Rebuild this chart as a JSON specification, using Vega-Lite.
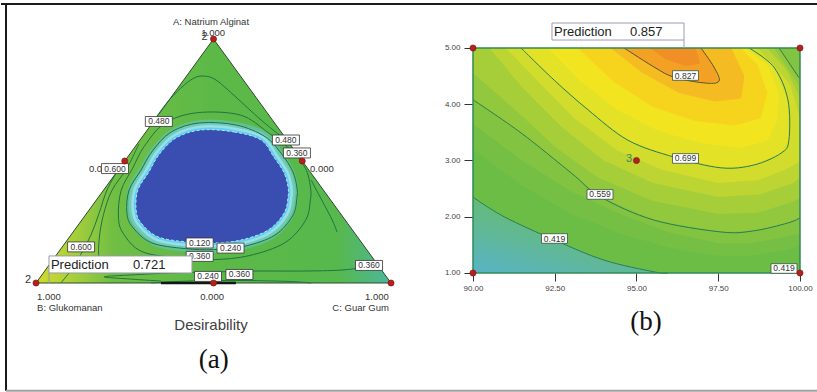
{
"$schema":"https://vega.github.io/schema/vega-lite/v6.json",
"padding":0,
"spacing":0,
"bounds":"flush",
"background":"white",
"config":{"view":{"stroke":null},"font":"Liberation Sans"},
"resolve":{"scale":{"x":"independent","y":"independent"}},
"datasets":{
"LP":[
{"g":"tri","i":0,"u":0,"v":0},{"g":"tri","i":1,"u":1,"v":0},{"g":"tri","i":2,"u":0.5,"v":1},
{"g":"blob","i":1,"u":0.465,"v":0.627},{"g":"blob","i":2,"u":0.558,"v":0.619},{"g":"blob","i":3,"u":0.634,"v":0.586},{"g":"blob","i":4,"u":0.670,"v":0.516},{"g":"blob","i":5,"u":0.699,"v":0.451},{"g":"blob","i":6,"u":0.710,"v":0.393},{"g":"blob","i":7,"u":0.710,"v":0.352},{"g":"blob","i":8,"u":0.699,"v":0.287},{"g":"blob","i":9,"u":0.654,"v":0.217},{"g":"blob","i":10,"u":0.577,"v":0.176},{"g":"blob","i":11,"u":0.501,"v":0.164},{"g":"blob","i":12,"u":0.428,"v":0.168},{"g":"blob","i":13,"u":0.344,"v":0.189},{"g":"blob","i":14,"u":0.296,"v":0.246},{"g":"blob","i":15,"u":0.282,"v":0.299},{"g":"blob","i":16,"u":0.287,"v":0.381},{"g":"blob","i":17,"u":0.318,"v":0.455},{"g":"blob","i":18,"u":0.346,"v":0.525},{"g":"blob","i":19,"u":0.394,"v":0.594},
{"g":"r240","i":1,"u":0.461,"v":0.656},{"g":"r240","i":2,"u":0.565,"v":0.647},{"g":"r240","i":3,"u":0.645,"v":0.600},{"g":"r240","i":4,"u":0.691,"v":0.531},{"g":"r240","i":5,"u":0.723,"v":0.458},{"g":"r240","i":6,"u":0.735,"v":0.393},{"g":"r240","i":7,"u":0.735,"v":0.348},{"g":"r240","i":8,"u":0.723,"v":0.275},{"g":"r240","i":9,"u":0.673,"v":0.196},{"g":"r240","i":10,"u":0.586,"v":0.150},{"g":"r240","i":11,"u":0.501,"v":0.137},{"g":"r240","i":12,"u":0.420,"v":0.141},{"g":"r240","i":13,"u":0.325,"v":0.165},{"g":"r240","i":14,"u":0.272,"v":0.229},{"g":"r240","i":15,"u":0.256,"v":0.288},{"g":"r240","i":16,"u":0.262,"v":0.380},{"g":"r240","i":17,"u":0.296,"v":0.463},{"g":"r240","i":18,"u":0.328,"v":0.541},{"g":"r240","i":19,"u":0.381,"v":0.619},
{"g":"r360","i":1,"u":0.455,"v":0.698},{"g":"r360","i":2,"u":0.576,"v":0.688},{"g":"r360","i":3,"u":0.655,"v":0.615},{"g":"r360","i":4,"u":0.718,"v":0.545},{"g":"r360","i":5,"u":0.759,"v":0.470},{"g":"r360","i":6,"u":0.773,"v":0.394},{"g":"r360","i":7,"u":0.773,"v":0.341},{"g":"r360","i":8,"u":0.759,"v":0.256},{"g":"r360","i":9,"u":0.701,"v":0.165},{"g":"r360","i":10,"u":0.600,"v":0.112},{"g":"r360","i":11,"u":0.502,"v":0.096},{"g":"r360","i":12,"u":0.407,"v":0.102},{"g":"r360","i":13,"u":0.298,"v":0.129},{"g":"r360","i":14,"u":0.245,"v":0.205},{"g":"r360","i":15,"u":0.232,"v":0.275},{"g":"r360","i":16,"u":0.240,"v":0.380},{"g":"r360","i":17,"u":0.272,"v":0.470},{"g":"r360","i":18,"u":0.305,"v":0.560},{"g":"r360","i":19,"u":0.363,"v":0.655},
{"g":"l480u","i":1,"u":0.324,"v":0.648},{"g":"l480u","i":2,"u":0.366,"v":0.734},{"g":"l480u","i":3,"u":0.408,"v":0.799},{"g":"l480u","i":4,"u":0.445,"v":0.840},{"g":"l480u","i":5,"u":0.473,"v":0.848},{"g":"l480u","i":6,"u":0.507,"v":0.832},{"g":"l480u","i":7,"u":0.563,"v":0.762},{"g":"l480u","i":8,"u":0.634,"v":0.668},{"g":"l480u","i":9,"u":0.707,"v":0.582},
{"g":"l480r","i":1,"u":0.775,"v":0.422},{"g":"l480r","i":2,"u":0.797,"v":0.361},{"g":"l480r","i":3,"u":0.820,"v":0.299},{"g":"l480r","i":4,"u":0.837,"v":0.250},{"g":"l480r","i":5,"u":0.848,"v":0.209},
{"g":"l480l","i":1,"u":0.290,"v":0.570},{"g":"l480l","i":2,"u":0.256,"v":0.470},{"g":"l480l","i":3,"u":0.214,"v":0.380},{"g":"l480l","i":4,"u":0.190,"v":0.280},{"g":"l480l","i":5,"u":0.178,"v":0.180},{"g":"l480l","i":6,"u":0.178,"v":0.100},{"g":"l480l","i":7,"u":0.195,"v":0.045},
{"g":"l600","i":1,"u":0.234,"v":0.471},{"g":"l600","i":2,"u":0.200,"v":0.381},{"g":"l600","i":3,"u":0.178,"v":0.287},{"g":"l600","i":4,"u":0.155,"v":0.197},{"g":"l600","i":5,"u":0.127,"v":0.119},{"g":"l600","i":6,"u":0.099,"v":0.053},{"g":"l600","i":7,"u":0.070,"v":0.0},
{"g":"lb360","i":1,"u":0.352,"v":0.008},{"g":"lb360","i":2,"u":0.268,"v":0.016},{"g":"lb360","i":3,"u":0.192,"v":0.025},{"g":"lb360","i":4,"u":0.268,"v":0.033},{"g":"lb360","i":5,"u":0.380,"v":0.041},{"g":"lb360","i":6,"u":0.499,"v":0.045},{"g":"lb360","i":7,"u":0.606,"v":0.049},{"g":"lb360","i":8,"u":0.746,"v":0.049},{"g":"lb360","i":9,"u":0.859,"v":0.053},{"g":"lb360","i":10,"u":0.930,"v":0.066},{"g":"lb360","i":11,"u":0.961,"v":0.078},
{"g":"lb240","i":1,"u":0.324,"v":0},{"g":"lb240","i":2,"u":0.394,"v":0.006},{"g":"lb240","i":3,"u":0.499,"v":0.010},{"g":"lb240","i":4,"u":0.606,"v":0.010},{"g":"lb240","i":5,"u":0.718,"v":0.006},{"g":"lb240","i":6,"u":0.775,"v":0},
{"g":"base","i":1,"u":0.352,"v":0},{"g":"base","i":2,"u":0.563,"v":0}
],
"LBox":[
{"u":0.346,"v":0.662,"t":"0.480"},{"u":0.704,"v":0.586,"t":"0.480"},{"u":0.735,"v":0.533,"t":"0.360"},{"u":0.2225,"v":0.469,"t":"0.600"},{"u":0.127,"v":0.148,"t":"0.600"},{"u":0.461,"v":0.164,"t":"0.120"},{"u":0.548,"v":0.143,"t":"0.240"},{"u":0.461,"v":0.109,"t":"0.360"},{"u":0.4845,"v":0.027,"t":"0.240"},{"u":0.573,"v":0.035,"t":"0.360"},{"u":0.938,"v":0.072,"t":"0.360"}
],
"LUnder":[{"u":0.149,"v":0.467,"t":"0.000"},{"u":0.772,"v":0.467,"t":"0.000"}],
"LTc":[{"u":0.493,"v":1.070,"t":"A: Natrium Alginat"},{"u":0.499,"v":1.023,"t":"1.000"},{"u":0.496,"v":-0.057,"t":"0.000"}],
"LTl":[{"u":0.003,"v":-0.057,"t":"1.000"},{"u":0.003,"v":-0.102,"t":"B: Glukomanan"}],
"LTr":[{"u":0.994,"v":-0.057,"t":"1.000"},{"u":0.994,"v":-0.102,"t":"C: Guar Gum"}],
"LT2":[{"u":0.475,"v":1.010,"t":"2"},{"u":-0.0225,"v":0.012,"t":"2"}],
"LM":[{"u":0.5,"v":1},{"u":0,"v":0},{"u":1,"v":0},{"u":0.25,"v":0.5},{"u":0.75,"v":0.5},{"u":0.5,"v":0}],
"RP":[
{"g":"base","i":0,"x":90,"y":1},{"g":"base","i":1,"x":100,"y":1},{"g":"base","i":2,"x":100,"y":5},{"g":"base","i":3,"x":90,"y":5},
{"g":"corner","i":0,"x":90,"y":1},{"g":"corner","i":1,"x":95.96,"y":1},{"g":"corner","i":2,"x":95.54,"y":1.02},{"g":"corner","i":3,"x":94.0,"y":1.23},{"g":"corner","i":4,"x":92.48,"y":1.59},{"g":"corner","i":5,"x":90.95,"y":2.0},{"g":"corner","i":6,"x":90,"y":2.35},
{"g":"b49","i":0,"x":90,"y":5},{"g":"b49","i":1,"x":90,"y":3.2},{"g":"b49","i":2,"x":91.5,"y":2.55},{"g":"b49","i":3,"x":93,"y":2.05},{"g":"b49","i":4,"x":94.5,"y":1.7},{"g":"b49","i":5,"x":96,"y":1.45},{"g":"b49","i":6,"x":97.5,"y":1.3},{"g":"b49","i":7,"x":98.5,"y":1.3},{"g":"b49","i":8,"x":99.5,"y":1.4},{"g":"b49","i":9,"x":100,"y":1.47},{"g":"b49","i":10,"x":100,"y":5},
{"g":"b53","i":0,"x":90,"y":5},{"g":"b53","i":1,"x":90,"y":3.65},{"g":"b53","i":2,"x":91.5,"y":3.0},{"g":"b53","i":3,"x":93,"y":2.45},{"g":"b53","i":4,"x":94.5,"y":2.05},{"g":"b53","i":5,"x":96,"y":1.72},{"g":"b53","i":6,"x":97.5,"y":1.53},{"g":"b53","i":7,"x":98.5,"y":1.53},{"g":"b53","i":8,"x":99.5,"y":1.63},{"g":"b53","i":9,"x":100,"y":1.7},{"g":"b53","i":10,"x":100,"y":5},
{"g":"b559","i":0,"x":90,"y":5},{"g":"b559","i":1,"x":90,"y":4.08},{"g":"b559","i":2,"x":91.47,"y":3.49},{"g":"b559","i":3,"x":93.0,"y":2.78},{"g":"b559","i":4,"x":93.91,"y":2.35},{"g":"b559","i":5,"x":95.54,"y":1.94},{"g":"b559","i":6,"x":97.58,"y":1.73},{"g":"b559","i":7,"x":98.59,"y":1.75},{"g":"b559","i":8,"x":99.63,"y":1.89},{"g":"b559","i":9,"x":100,"y":1.98},{"g":"b559","i":10,"x":100,"y":4.45},{"g":"b559","i":11,"x":99.97,"y":4.47},{"g":"b559","i":12,"x":99.36,"y":5},
{"g":"b595","i":0,"x":90,"y":5},{"g":"b595","i":1,"x":90,"y":4.55},{"g":"b595","i":2,"x":91.2,"y":3.95},{"g":"b595","i":3,"x":92.5,"y":3.25},{"g":"b595","i":4,"x":93.8,"y":2.7},{"g":"b595","i":5,"x":95.5,"y":2.28},{"g":"b595","i":6,"x":97.5,"y":2.05},{"g":"b595","i":7,"x":98.7,"y":2.07},{"g":"b595","i":8,"x":99.7,"y":2.25},{"g":"b595","i":9,"x":100,"y":2.33},{"g":"b595","i":10,"x":100,"y":4.3},{"g":"b595","i":11,"x":99.75,"y":4.52},{"g":"b595","i":12,"x":99.2,"y":5},
{"g":"b63","i":0,"x":90.5,"y":5},{"g":"b63","i":1,"x":91.5,"y":4.3},{"g":"b63","i":2,"x":92.7,"y":3.6},{"g":"b63","i":3,"x":94,"y":3.0},{"g":"b63","i":4,"x":95.5,"y":2.6},{"g":"b63","i":5,"x":97.5,"y":2.35},{"g":"b63","i":6,"x":98.8,"y":2.4},{"g":"b63","i":7,"x":99.8,"y":2.6},{"g":"b63","i":8,"x":100,"y":2.7},{"g":"b63","i":9,"x":100,"y":4.1},{"g":"b63","i":10,"x":99.6,"y":4.6},{"g":"b63","i":11,"x":99.0,"y":5},
{"g":"b665","i":0,"x":91.0,"y":5},{"g":"b665","i":1,"x":92.0,"y":4.4},{"g":"b665","i":2,"x":93.1,"y":3.75},{"g":"b665","i":3,"x":94.4,"y":3.18},{"g":"b665","i":4,"x":95.8,"y":2.83},{"g":"b665","i":5,"x":97.5,"y":2.6},{"g":"b665","i":6,"x":98.7,"y":2.65},{"g":"b665","i":7,"x":99.6,"y":2.85},{"g":"b665","i":8,"x":100,"y":2.98},{"g":"b665","i":9,"x":100,"y":3.75},{"g":"b665","i":10,"x":99.7,"y":4.35},{"g":"b665","i":11,"x":99.1,"y":4.75},{"g":"b665","i":12,"x":98.7,"y":5},
{"g":"b699","i":0,"x":91.47,"y":5},{"g":"b699","i":1,"x":92.48,"y":4.43},{"g":"b699","i":2,"x":93.52,"y":3.9},{"g":"b699","i":3,"x":94.74,"y":3.36},{"g":"b699","i":4,"x":96.15,"y":3.06},{"g":"b699","i":5,"x":97.58,"y":2.87},{"g":"b699","i":6,"x":98.59,"y":2.92},{"g":"b699","i":7,"x":99.42,"y":3.13},{"g":"b699","i":8,"x":99.66,"y":3.36},{"g":"b699","i":9,"x":99.63,"y":4.08},{"g":"b699","i":10,"x":99.2,"y":4.66},{"g":"b699","i":11,"x":98.44,"y":5},
{"g":"b73","i":0,"x":92.3,"y":5},{"g":"b73","i":1,"x":93.3,"y":4.4},{"g":"b73","i":2,"x":94.4,"y":3.9},{"g":"b73","i":3,"x":95.7,"y":3.52},{"g":"b73","i":4,"x":97.0,"y":3.3},{"g":"b73","i":5,"x":98.2,"y":3.22},{"g":"b73","i":6,"x":99.0,"y":3.35},{"g":"b73","i":7,"x":99.3,"y":3.7},{"g":"b73","i":8,"x":99.35,"y":4.2},{"g":"b73","i":9,"x":99.0,"y":4.7},{"g":"b73","i":10,"x":98.32,"y":5},
{"g":"b76","i":0,"x":93.2,"y":5},{"g":"b76","i":1,"x":94.3,"y":4.4},{"g":"b76","i":2,"x":95.5,"y":3.95},{"g":"b76","i":3,"x":96.8,"y":3.7},{"g":"b76","i":4,"x":98.0,"y":3.62},{"g":"b76","i":5,"x":98.8,"y":3.75},{"g":"b76","i":6,"x":99.0,"y":4.2},{"g":"b76","i":7,"x":98.7,"y":4.7},{"g":"b76","i":8,"x":98.2,"y":5},
{"g":"b80","i":0,"x":94.2,"y":5},{"g":"b80","i":1,"x":95.2,"y":4.55},{"g":"b80","i":2,"x":96.3,"y":4.2},{"g":"b80","i":3,"x":97.4,"y":4.05},{"g":"b80","i":4,"x":98.2,"y":4.1},{"g":"b80","i":5,"x":98.3,"y":4.5},{"g":"b80","i":6,"x":97.9,"y":5},
{"g":"b827","i":0,"x":94.62,"y":5},{"g":"b827","i":1,"x":95.54,"y":4.66},{"g":"b827","i":2,"x":96.15,"y":4.48},{"g":"b827","i":3,"x":97.06,"y":4.38},{"g":"b827","i":4,"x":97.52,"y":4.41},{"g":"b827","i":5,"x":97.37,"y":4.66},{"g":"b827","i":6,"x":96.97,"y":5},
{"g":"b845","i":0,"x":95.4,"y":5},{"g":"b845","i":1,"x":95.9,"y":4.8},{"g":"b845","i":2,"x":96.5,"y":4.68},{"g":"b845","i":3,"x":96.95,"y":4.72},{"g":"b845","i":4,"x":96.8,"y":5}
],
"RL":[
{"g":"c827","i":0,"x":94.62,"y":5},{"g":"c827","i":1,"x":95.54,"y":4.66},{"g":"c827","i":2,"x":96.15,"y":4.48},{"g":"c827","i":3,"x":97.06,"y":4.38},{"g":"c827","i":4,"x":97.52,"y":4.41},{"g":"c827","i":5,"x":97.37,"y":4.66},{"g":"c827","i":6,"x":96.97,"y":5},
{"g":"c699","i":0,"x":91.47,"y":5},{"g":"c699","i":1,"x":92.48,"y":4.43},{"g":"c699","i":2,"x":93.52,"y":3.9},{"g":"c699","i":3,"x":94.74,"y":3.36},{"g":"c699","i":4,"x":96.15,"y":3.06},{"g":"c699","i":5,"x":97.58,"y":2.87},{"g":"c699","i":6,"x":98.59,"y":2.92},{"g":"c699","i":7,"x":99.42,"y":3.13},{"g":"c699","i":8,"x":99.66,"y":3.36},{"g":"c699","i":9,"x":99.63,"y":4.08},{"g":"c699","i":10,"x":99.2,"y":4.66},{"g":"c699","i":11,"x":98.44,"y":5},
{"g":"c559","i":0,"x":90,"y":4.08},{"g":"c559","i":1,"x":91.47,"y":3.49},{"g":"c559","i":2,"x":93.0,"y":2.78},{"g":"c559","i":3,"x":93.91,"y":2.35},{"g":"c559","i":4,"x":95.54,"y":1.94},{"g":"c559","i":5,"x":97.58,"y":1.73},{"g":"c559","i":6,"x":98.59,"y":1.75},{"g":"c559","i":7,"x":99.63,"y":1.89},{"g":"c559","i":8,"x":100,"y":1.98},
{"g":"c559b","i":0,"x":99.36,"y":5},{"g":"c559b","i":1,"x":99.97,"y":4.47},
{"g":"c419","i":0,"x":90,"y":2.35},{"g":"c419","i":1,"x":90.95,"y":2.0},{"g":"c419","i":2,"x":92.48,"y":1.59},{"g":"c419","i":3,"x":94.0,"y":1.23},{"g":"c419","i":4,"x":95.54,"y":1.02},{"g":"c419","i":5,"x":95.96,"y":1.0}
],
"RBox":[{"x":96.498,"y":4.511,"t":"0.827"},{"x":96.498,"y":3.036,"t":"0.699"},{"x":93.884,"y":2.396,"t":"0.559"},{"x":92.492,"y":1.613,"t":"0.419"},{"x":99.511,"y":1.08,"t":"0.419"}],
"RM":[{"x":90,"y":5},{"x":100,"y":5},{"x":90,"y":1},{"x":100,"y":1},{"x":95,"y":3}]
},
"hconcat":[
{
"width":420,"height":392,
"data":{"name":"LP"},
"encoding":{
"x":{"field":"u","type":"quantitative","scale":{"domain":[-0.0986,1.0845],"nice":false,"zero":false},"axis":null},
"y":{"field":"v","type":"quantitative","scale":{"domain":[-0.4467,1.1598],"nice":false,"zero":false},"axis":null}
},
"layer":[
{"transform":[{"filter":{"field":"g","equal":"tri"}}],"mark":{"type":"line","interpolate":"linear-closed","fill":{"gradient":"linear","x1":0,"y1":0,"x2":1,"y2":0,"stops":[{"offset":0,"color":"#d3db2c"},{"offset":0.1,"color":"#aad03a"},{"offset":0.22,"color":"#70be44"},{"offset":0.5,"color":"#5cb947"},{"offset":0.85,"color":"#57b84c"},{"offset":1,"color":"#4cb79c"}]},"stroke":"#2c4a2c","strokeWidth":1},"encoding":{"order":{"field":"i","type":"quantitative"}}},
{"transform":[{"filter":{"field":"g","equal":"blob"}}],"mark":{"type":"line","interpolate":"cardinal-closed","fill":"#62c08e","stroke":"#62c08e","strokeWidth":20,"strokeJoin":"round"},"encoding":{"order":{"field":"i","type":"quantitative"}}},
{"transform":[{"filter":{"field":"g","equal":"blob"}}],"mark":{"type":"line","interpolate":"cardinal-closed","fill":"#72cbb9","stroke":"#72cbb9","strokeWidth":14,"strokeJoin":"round"},"encoding":{"order":{"field":"i","type":"quantitative"}}},
{"transform":[{"filter":{"field":"g","equal":"blob"}}],"mark":{"type":"line","interpolate":"cardinal-closed","fill":"#98dfe8","stroke":"#98dfe8","strokeWidth":9,"strokeJoin":"round"},"encoding":{"order":{"field":"i","type":"quantitative"}}},
{"transform":[{"filter":{"field":"g","equal":"blob"}}],"mark":{"type":"line","interpolate":"cardinal-closed","fill":"#62cff0","stroke":"#62cff0","strokeWidth":4,"strokeJoin":"round"},"encoding":{"order":{"field":"i","type":"quantitative"}}},
{"transform":[{"filter":{"field":"g","equal":"blob"}}],"mark":{"type":"line","interpolate":"cardinal-closed","fill":"#3a4db1","stroke":"#a8e8f6","strokeWidth":1,"strokeDash":[3,2]},"encoding":{"order":{"field":"i","type":"quantitative"}}},
{"transform":[{"filter":{"field":"g","oneOf":["r240","r360"]}}],"mark":{"type":"line","interpolate":"cardinal-closed","stroke":"#1f7443","strokeWidth":1},"encoding":{"detail":{"field":"g","type":"nominal"},"order":{"field":"i","type":"quantitative"}}},
{"transform":[{"filter":{"field":"g","oneOf":["l480u","l480r","l480l","l600","lb360","lb240"]}}],"mark":{"type":"line","interpolate":"cardinal","stroke":"#1f7443","strokeWidth":1},"encoding":{"detail":{"field":"g","type":"nominal"},"order":{"field":"i","type":"quantitative"}}},
{"transform":[{"filter":{"field":"g","equal":"base"}}],"mark":{"type":"line","stroke":"#151515","strokeWidth":2.5},"encoding":{"order":{"field":"i","type":"quantitative"}}},
{"data":{"name":"LUnder"},"mark":{"type":"text","align":"left","baseline":"middle","fontSize":9.5,"fill":"#333333","font":"Liberation Sans"},"encoding":{"text":{"field":"t"}}},
{"data":{"name":"LBox"},"mark":{"type":"point","shape":"M-1,-0.37L1,-0.37L1,0.37L-1,0.37Z","size":729,"filled":true,"fill":"white","stroke":"#333333","strokeWidth":0.8,"opacity":1}},
{"data":{"name":"LBox"},"mark":{"type":"text","align":"center","baseline":"middle","fontSize":8.5,"fill":"#333333","font":"Liberation Sans"},"encoding":{"text":{"field":"t"}}},
{"data":{"name":"LM"},"mark":{"type":"point","filled":true,"fill":"#b3201e","stroke":"#7d1010","strokeWidth":0.6,"size":38,"opacity":1}},
{"data":{"values":[{"u":0.0366,"v":0.041,"v2":0}]},"mark":{"type":"rule","stroke":"#9a9aa8","strokeWidth":1},"encoding":{"y2":{"field":"v2"}}},
{"data":{"values":[{"u":0.238,"v":0.076}]},"mark":{"type":"point","shape":"M-1,-0.119L1,-0.119L1,0.119L-1,0.119Z","size":20449,"filled":true,"fill":"white","stroke":"#9a9aa8","strokeWidth":1,"opacity":1}},
{"data":{"values":[{"u":0.042,"v":0.074,"t":"Prediction"},{"u":0.273,"v":0.074,"t":"0.721"}]},"mark":{"type":"text","align":"left","baseline":"middle","fontSize":13,"fill":"#222222","font":"Liberation Sans"},"encoding":{"text":{"field":"t"}}},
{"data":{"name":"LTc"},"mark":{"type":"text","align":"center","baseline":"middle","fontSize":9.5,"fill":"#333333","font":"Liberation Sans"},"encoding":{"text":{"field":"t"}}},
{"data":{"name":"LTl"},"mark":{"type":"text","align":"left","baseline":"middle","fontSize":9.5,"fill":"#333333","font":"Liberation Sans"},"encoding":{"text":{"field":"t"}}},
{"data":{"name":"LTr"},"mark":{"type":"text","align":"right","baseline":"middle","fontSize":9.5,"fill":"#333333","font":"Liberation Sans"},"encoding":{"text":{"field":"t"}}},
{"data":{"name":"LT2"},"mark":{"type":"text","align":"center","baseline":"middle","fontSize":11,"fill":"#333333","font":"Liberation Sans"},"encoding":{"text":{"field":"t"}}},
{"data":{"values":[{"u":0.493,"v":-0.172,"t":"Desirability"}]},"mark":{"type":"text","align":"center","baseline":"middle","fontSize":15,"fill":"#404040","font":"Liberation Sans"},"encoding":{"text":{"field":"t"}}},
{"data":{"values":[{"u":0.501,"v":-0.3156,"t":"(a)"}]},"mark":{"type":"text","align":"center","baseline":"middle","fontSize":27,"fill":"#111111","font":"Liberation Serif"},"encoding":{"text":{"field":"t"}}},
{"data":{"values":[{"u":-0.0986,"u2":1.0845,"v":1.1434}]},"mark":{"type":"rule","stroke":"#1a1a1a","strokeWidth":2},"encoding":{"x2":{"field":"u2"}}},
{"data":{"values":[{"u":-0.0845,"v":-0.4414,"v2":1.1475}]},"mark":{"type":"rule","stroke":"#1a1a1a","strokeWidth":2},"encoding":{"y2":{"field":"v2"}}},
{"data":{"values":[{"u":-0.0845,"u2":1.0845,"v":-0.4414}]},"mark":{"type":"rule","stroke":"#a0a0a0","strokeWidth":2},"encoding":{"x2":{"field":"u2"}}}
]
},
{
"width":397,"height":392,
"data":{"name":"RP"},
"encoding":{
"x":{"field":"x","type":"quantitative","scale":{"domain":[88.4098,100.5505],"nice":false,"zero":false},"axis":{"orient":"bottom","offset":-119,"values":[90,92.5,95,97.5,100],"format":".2f","domain":false,"grid":false,"tickSize":8,"tickColor":"#333333","labelFontSize":8,"labelColor":"#444444","labelPadding":3,"labelFlush":false,"labelFont":"Liberation Sans","title":null}},
"y":{"field":"y","type":"quantitative","scale":{"domain":[-1.1156,5.8533],"nice":false,"zero":false},"axis":{"orient":"left","offset":-52,"values":[1,2,3,4,5],"format":".2f","domain":false,"grid":false,"tickSize":9,"tickColor":"#333333","labelFontSize":8,"labelColor":"#444444","labelPadding":4,"labelFont":"Liberation Sans","title":null}}
},
"layer":[
{"transform":[{"filter":{"field":"g","equal":"base"}}],"mark":{"type":"line","interpolate":"linear-closed","fill":"#6cbd45","strokeWidth":0},"encoding":{"order":{"field":"i","type":"quantitative"}}},
{"transform":[{"filter":{"field":"g","equal":"corner"}}],"mark":{"type":"line","interpolate":"linear-closed","fill":{"gradient":"linear","x1":0,"y1":1,"x2":0.7,"y2":0,"stops":[{"offset":0,"color":"#58b3c6"},{"offset":0.5,"color":"#62b98c"},{"offset":1,"color":"#6cbd45"}]},"strokeWidth":0},"encoding":{"order":{"field":"i","type":"quantitative"}}},
{"transform":[{"filter":{"field":"g","equal":"b49"}}],"mark":{"type":"line","interpolate":"linear-closed","fill":"#75bf44","strokeWidth":0},"encoding":{"order":{"field":"i","type":"quantitative"}}},
{"transform":[{"filter":{"field":"g","equal":"b53"}}],"mark":{"type":"line","interpolate":"linear-closed","fill":"#82c341","strokeWidth":0},"encoding":{"order":{"field":"i","type":"quantitative"}}},
{"transform":[{"filter":{"field":"g","equal":"b559"}}],"mark":{"type":"line","interpolate":"linear-closed","fill":"#92c83d","strokeWidth":0},"encoding":{"order":{"field":"i","type":"quantitative"}}},
{"transform":[{"filter":{"field":"g","equal":"b595"}}],"mark":{"type":"line","interpolate":"linear-closed","fill":"#a6ce39","strokeWidth":0},"encoding":{"order":{"field":"i","type":"quantitative"}}},
{"transform":[{"filter":{"field":"g","equal":"b63"}}],"mark":{"type":"line","interpolate":"linear-closed","fill":"#bcd533","strokeWidth":0},"encoding":{"order":{"field":"i","type":"quantitative"}}},
{"transform":[{"filter":{"field":"g","equal":"b665"}}],"mark":{"type":"line","interpolate":"linear-closed","fill":"#d2dc2d","strokeWidth":0},"encoding":{"order":{"field":"i","type":"quantitative"}}},
{"transform":[{"filter":{"field":"g","equal":"b699"}}],"mark":{"type":"line","interpolate":"linear-closed","fill":"#e4e227","strokeWidth":0},"encoding":{"order":{"field":"i","type":"quantitative"}}},
{"transform":[{"filter":{"field":"g","equal":"b73"}}],"mark":{"type":"line","interpolate":"linear-closed","fill":"#f2e41f","strokeWidth":0},"encoding":{"order":{"field":"i","type":"quantitative"}}},
{"transform":[{"filter":{"field":"g","equal":"b76"}}],"mark":{"type":"line","interpolate":"linear-closed","fill":"#f6d41e","strokeWidth":0},"encoding":{"order":{"field":"i","type":"quantitative"}}},
{"transform":[{"filter":{"field":"g","equal":"b80"}}],"mark":{"type":"line","interpolate":"linear-closed","fill":"#f5bb22","strokeWidth":0},"encoding":{"order":{"field":"i","type":"quantitative"}}},
{"transform":[{"filter":{"field":"g","equal":"b827"}}],"mark":{"type":"line","interpolate":"linear-closed","fill":"#f3a024","strokeWidth":0},"encoding":{"order":{"field":"i","type":"quantitative"}}},
{"transform":[{"filter":{"field":"g","equal":"b845"}}],"mark":{"type":"line","interpolate":"linear-closed","fill":"#ef8f26","strokeWidth":0},"encoding":{"order":{"field":"i","type":"quantitative"}}},
{"data":{"name":"RL"},"transform":[{"filter":{"field":"g","oneOf":["c699","c559","c559b","c419"]}}],"mark":{"type":"line","interpolate":"cardinal","stroke":"#2a7d4e","strokeWidth":1},"encoding":{"detail":{"field":"g","type":"nominal"},"order":{"field":"i","type":"quantitative"}}},
{"data":{"name":"RL"},"transform":[{"filter":{"field":"g","equal":"c827"}}],"mark":{"type":"line","interpolate":"cardinal","stroke":"#55502e","strokeWidth":1},"encoding":{"order":{"field":"i","type":"quantitative"}}},
{"data":{"values":[{"x":90,"x2":100,"y":1,"y2":5}]},"mark":{"type":"rect","filled":false,"fill":null,"stroke":"#2f8a55","strokeWidth":1.5},"encoding":{"x2":{"field":"x2"},"y2":{"field":"y2"}}},
{"data":{"values":[{"x":88.4098,"x2":100.5505,"y":5.782}]},"mark":{"type":"rule","stroke":"#1a1a1a","strokeWidth":2},"encoding":{"x2":{"field":"x2"}}},
{"data":{"values":[{"x":88.4098,"x2":100.5505,"y":-1.0924}]},"mark":{"type":"rule","stroke":"#a0a0a0","strokeWidth":2},"encoding":{"x2":{"field":"x2"}}},
{"data":{"values":[{"x":96.453,"y":5.142,"y2":5.0}]},"mark":{"type":"rule","stroke":"#9a9ab8","strokeWidth":1},"encoding":{"y2":{"field":"y2"}}},
{"data":{"name":"RBox"},"mark":{"type":"point","shape":"M-1,-0.37L1,-0.37L1,0.37L-1,0.37Z","size":676,"filled":true,"fill":"white","stroke":"#33503f","strokeWidth":0.8,"opacity":1}},
{"data":{"name":"RBox"},"mark":{"type":"text","align":"center","baseline":"middle","fontSize":8.5,"fill":"#333333","font":"Liberation Sans"},"encoding":{"text":{"field":"t"}}},
{"data":{"name":"RM"},"mark":{"type":"point","filled":true,"fill":"#b3201e","stroke":"#7d1010","strokeWidth":0.6,"size":38,"opacity":1}},
{"data":{"values":[{"x":94.77,"y":3.02,"t":"3"}]},"mark":{"type":"text","align":"center","baseline":"middle","fontSize":11,"fill":"#3a8a5a","font":"Liberation Sans"},"encoding":{"text":{"field":"t"}}},
{"data":{"values":[{"x":94.434,"y":5.293}]},"mark":{"type":"point","shape":"M-1,-0.129L1,-0.129L1,0.129L-1,0.129Z","size":17424,"filled":true,"fill":"white","stroke":"#9a9ab8","strokeWidth":1,"opacity":1}},
{"data":{"values":[{"x":92.477,"y":5.293,"t":"Prediction"},{"x":94.801,"y":5.293,"t":"0.857"}]},"mark":{"type":"text","align":"left","baseline":"middle","fontSize":13,"fill":"#222222","font":"Liberation Sans"},"encoding":{"text":{"field":"t"}}},
{"data":{"values":[{"x":95.29,"y":0.129,"t":"(b)"}]},"mark":{"type":"text","align":"center","baseline":"middle","fontSize":27,"fill":"#111111","font":"Liberation Serif"},"encoding":{"text":{"field":"t"}}}
]
}
]
}
